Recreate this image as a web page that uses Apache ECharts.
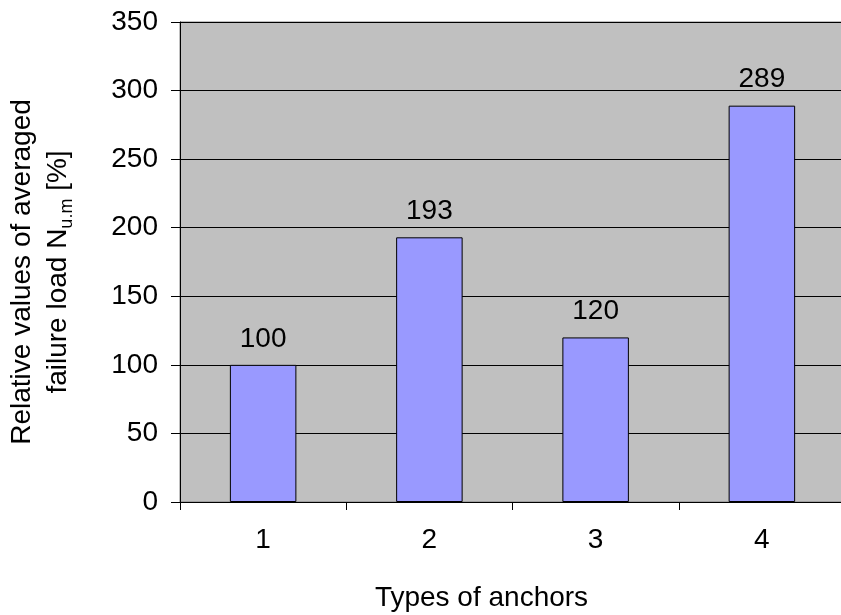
<!DOCTYPE html>
<html>
<head>
<meta charset="utf-8">
<script src="https://cdn.jsdelivr.net/npm/echarts@6/dist/echarts.min.js"></script>
<style>
html,body{margin:0;padding:0;background:#fff;}
#chart{width:841px;height:615px;}
</style>
</head>
<body>
<div id="chart"></div>
<script>
// Anchor types and their relative averaged failure load
const categories = ['1', '2', '3', '4'];
const values = [100, 193, 120, 289];
const yTicks = [0, 50, 100, 150, 200, 250, 300, 350];

const font = '"Liberation Sans", Arial, sans-serif';
const chart = echarts.init(document.getElementById('chart'), null, { renderer: 'canvas' });

chart.setOption({
  animation: false,
  backgroundColor: '#ffffff',
  grid: {
    left: 180, right: -4, top: 22, bottom: 113,
    containLabel: false, outerBoundsMode: 'none',
    show: true, backgroundColor: '#c0c0c0', borderColor: '#808080', borderWidth: 1
  },
  xAxis: {
    type: 'category',
    data: categories,
    name: 'Types of anchors',
    nameLocation: 'middle',
    nameGap: 82,
    nameTextStyle: { fontFamily: font, fontSize: 28, color: '#000', padding: [0, 62, 0, 0] },
    axisLine: { lineStyle: { color: '#000', width: 1 } },
    axisTick: { show: true, length: 8, alignWithLabel: false, lineStyle: { color: '#000' } },
    axisLabel: { fontFamily: font, fontSize: 28, color: '#000', margin: 24 },
    splitLine: { show: false }
  },
  yAxis: {
    type: 'value',
    min: yTicks[0],
    max: yTicks[yTicks.length - 1],
    interval: 50,
    name: 'Relative values of averaged\nfailure load N{sub|u.m} [%]',
    nameLocation: 'middle',
    nameGap: 104,
    nameRotate: 90,
    nameTextStyle: {
      fontFamily: font, fontSize: 28, color: '#000', lineHeight: 36, align: 'center',
      padding: [0, 20, 0, 0],
      rich: {
        sub: { fontFamily: font, fontSize: 18, color: '#000', verticalAlign: 'bottom', lineHeight: 30 }
      }
    },
    axisLine: { show: true, lineStyle: { color: '#000', width: 1 } },
    axisTick: { show: true, length: 9, inside: false, lineStyle: { color: '#000' } },
    axisLabel: { fontFamily: font, fontSize: 28, color: '#000', margin: 22 },
    splitLine: { show: true, lineStyle: { color: '#000', width: 1 } }
  },
  series: [{
    type: 'bar',
    data: values,
    barWidth: '40%',
    itemStyle: { color: '#9999ff', borderColor: '#000', borderWidth: 1 },
    label: {
      show: true, position: 'top', distance: 12,
      fontFamily: font, fontSize: 28, color: '#000'
    }
  }]
});
</script>
</body>
</html>
